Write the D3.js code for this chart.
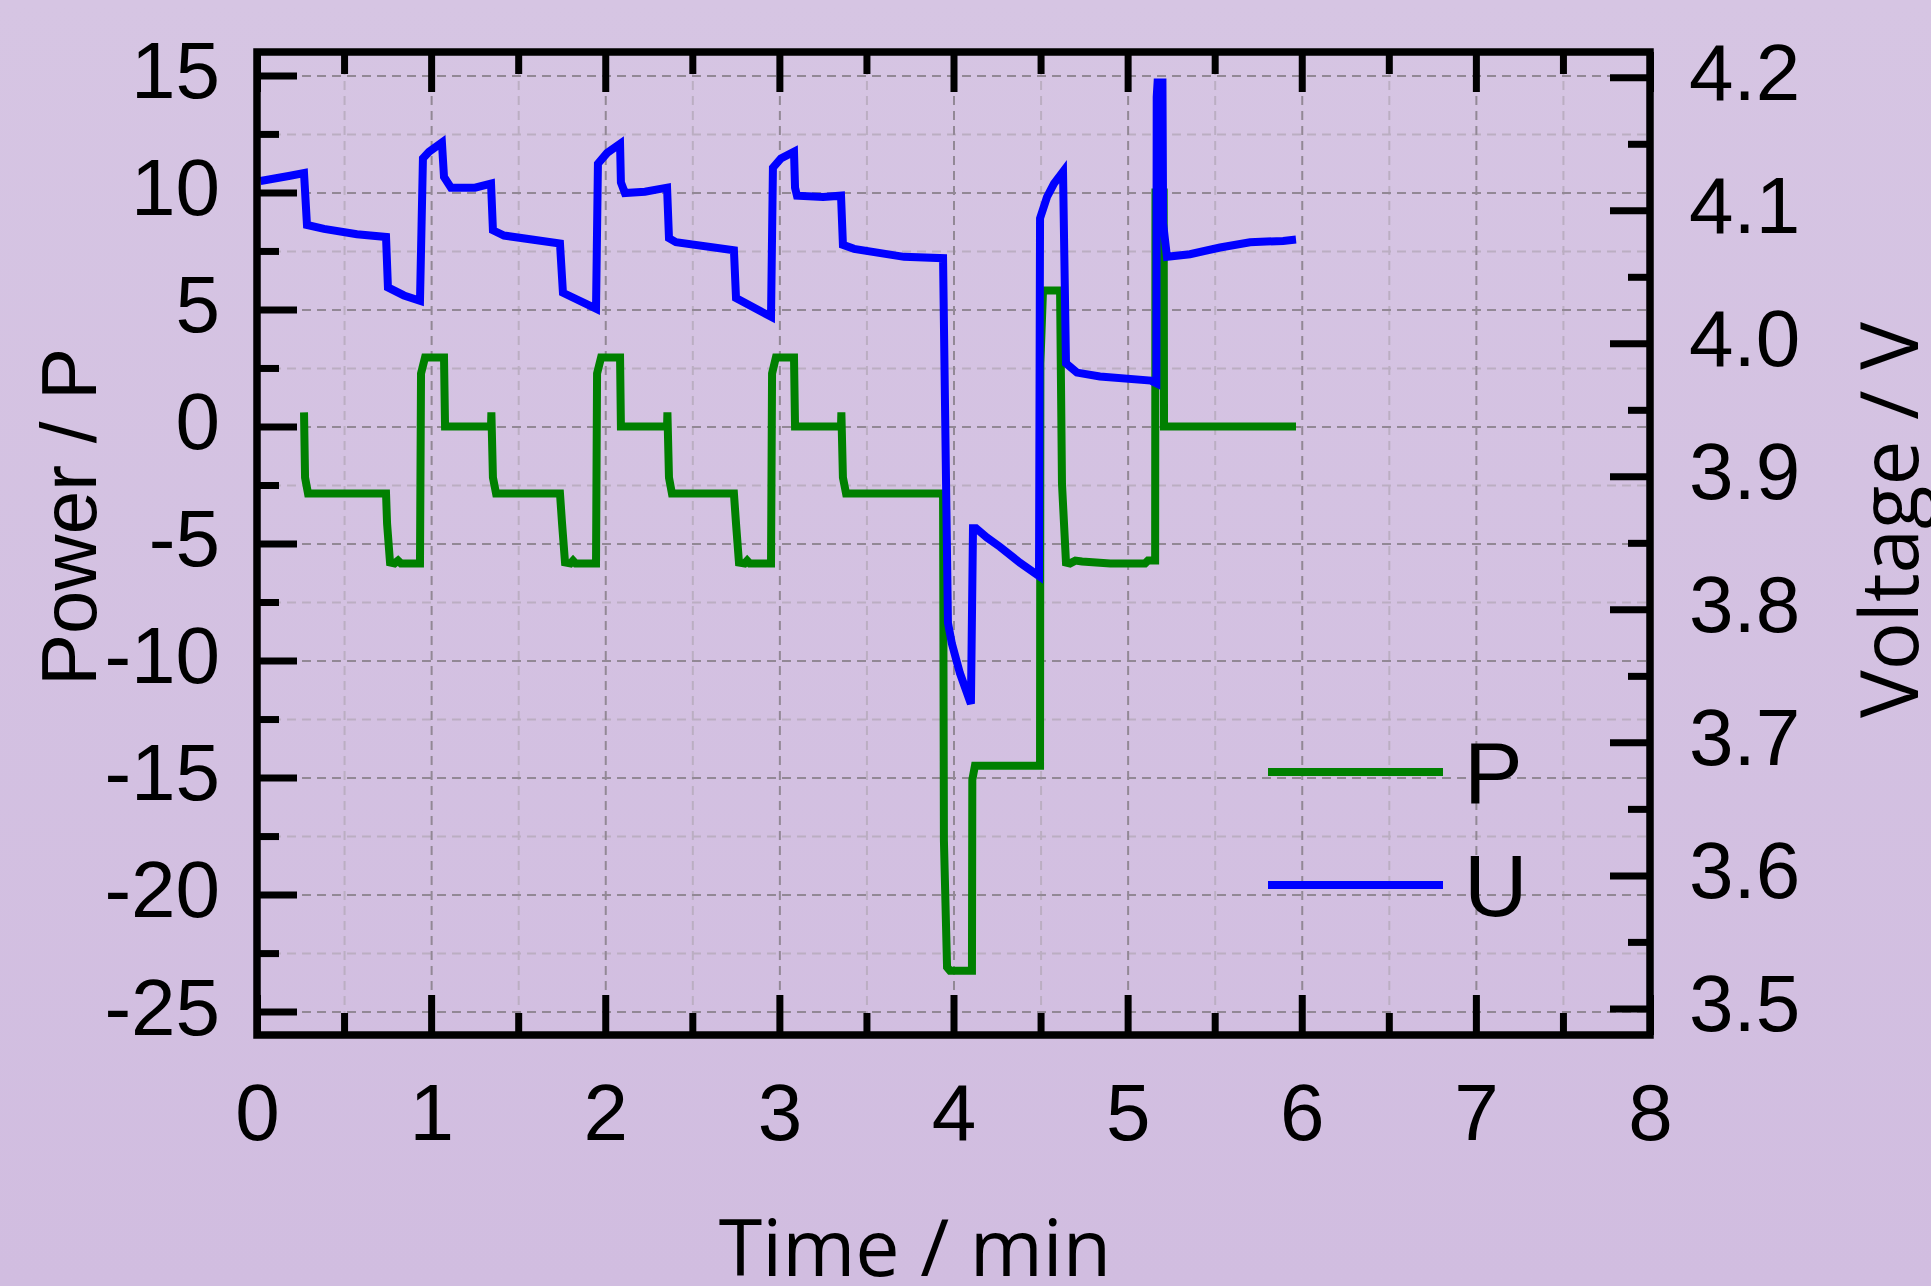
<!DOCTYPE html>
<html>
<head>
<meta charset="utf-8">
<script src="https://cdn.jsdelivr.net/npm/d3@7"></script>
<style>
  html, body { margin: 0; padding: 0; background: #d3bfe1; }
  svg { display: block; }
</style>
</head>
<body>
<div id="chart"></div>
<script>
'use strict';

// time axis (min)
var xMajor = [0, 1, 2, 3, 4, 5, 6, 7, 8],
    xMinor = [0.5, 1.5, 2.5, 3.5, 4.5, 5.5, 6.5, 7.5];
// power axis (left)
var pMajor = [-25, -20, -15, -10, -5, 0, 5, 10, 15],
    pMinor = [-22.5, -17.5, -12.5, -7.5, -2.5, 2.5, 7.5, 12.5];
// voltage axis (right)
var uMajor = [3.5, 3.6, 3.7, 3.8, 3.9, 4.0, 4.1, 4.2],
    uMinor = [3.55, 3.65, 3.75, 3.85, 3.95, 4.05, 4.15];

// P series
var pTime = [0.270, 0.276, 0.293, 0.741, 0.747, 0.764, 0.790, 0.810, 0.827, 0.936, 0.942, 0.965, 1.074, 1.080, 1.344,
    1.346, 1.355, 1.373, 1.740, 1.752, 1.769, 1.800, 1.815, 1.830, 1.947, 1.953, 1.976, 2.085, 2.090, 2.355,
    2.357, 2.366, 2.383, 2.739, 2.751, 2.768, 2.800, 2.815, 2.830, 2.952, 2.958, 2.980, 3.084, 3.090, 3.354,
    3.356, 3.365, 3.383, 3.940, 3.945, 3.963, 3.980, 4.106, 4.108, 4.123, 4.497, 4.499, 4.514, 4.612, 4.623,
    4.646, 4.669, 4.700, 4.738, 4.900, 5.100, 5.117, 5.158, 5.160, 5.207, 5.209, 5.967];
var pValues = [0.6, -2.18, -2.86, -2.86, -4.15, -5.81, -5.85, -5.73, -5.85, -5.85, 2.26, 2.95, 2.95, 0, 0,
    0.6, -2.18, -2.86, -2.86, -4.15, -5.81, -5.85, -5.73, -5.85, -5.85, 2.26, 2.95, 2.95, 0, 0,
    0.6, -2.18, -2.86, -2.86, -4.15, -5.81, -5.85, -5.73, -5.85, -5.85, 2.26, 2.95, 2.95, 0, 0,
    0.6, -2.18, -2.86, -2.86, -17.7, -23.1, -23.25, -23.25, -15.1, -14.5, -14.5, 2.7, 5.81, 5.81, -2.44,
    -5.81, -5.85, -5.73, -5.77, -5.85, -5.85, -5.73, -5.73, 10, 10, 0, 0];

// U series
var uTime = [0.02, 0.19, 0.27, 0.287, 0.385, 0.574, 0.741, 0.752, 0.844, 0.936, 0.953, 0.988, 1.062, 1.074, 1.114,
    1.252, 1.344, 1.355, 1.419, 1.740, 1.757, 1.947, 1.958, 2.010, 2.085, 2.090, 2.113, 2.228, 2.355, 2.366,
    2.406, 2.739, 2.751, 2.952, 2.963, 3.009, 3.084, 3.090, 3.101, 3.251, 3.354, 3.365, 3.429, 3.716, 3.940,
    3.968, 3.991, 4.037, 4.100, 4.112, 4.129, 4.192, 4.267, 4.382, 4.491, 4.497, 4.537, 4.577, 4.629, 4.646,
    4.709, 4.841, 5.134, 5.165, 5.167, 5.172, 5.200, 5.204, 5.226, 5.358, 5.531, 5.703, 5.893, 5.967];
var uValues = [4.122, 4.126, 4.128, 4.089, 4.086, 4.082, 4.080, 4.042, 4.036, 4.032, 4.139, 4.144, 4.151, 4.125, 4.117,
    4.117, 4.120, 4.085, 4.081, 4.075, 4.038, 4.026, 4.135, 4.143, 4.150, 4.121, 4.113, 4.114, 4.117, 4.079,
    4.076, 4.070, 4.034, 4.020, 4.132, 4.139, 4.144, 4.117, 4.111, 4.110, 4.111, 4.074, 4.071, 4.065, 4.064,
    3.790, 3.774, 3.752, 3.729, 3.861, 3.861, 3.854, 3.847, 3.835, 3.825, 4.094, 4.110, 4.120, 4.129, 3.985,
    3.978, 3.975, 3.972, 3.970, 4.185, 4.196, 4.196, 4.090, 4.065, 4.067, 4.072, 4.076, 4.077, 4.078];

var seriesNames = ['P', 'U'],
    seriesColors = ['#008000', '#0000ff'];

(function () {
    var width = 1931,
        height = 1286,
        plotLeft = 257,
        plotRight = 1650,
        plotTop = 52,
        plotBottom = 1035,
        tickFont = "'Liberation Sans', Arial, sans-serif",
        titleFont = "'Open Sans', 'Noto Sans', sans-serif",
        x = d3.scaleLinear().domain([0, 8]).range([plotLeft, plotRight]),
        yP = d3.scaleLinear().domain([-26, 16]).range([plotBottom, plotTop]),
        yU = d3.scaleLinear().domain([3.48, 4.219]).range([plotBottom, plotTop]),
        svg = d3.select('#chart').append('svg').attr('width', width).attr('height', height);

    var grad = svg.append('defs').append('linearGradient').attr('id', 'bg').attr('x1', 0).attr('y1', 0).attr('x2', 0).attr('y2', 1);
    grad.append('stop').attr('offset', '0%').attr('stop-color', '#d6c5e3');
    grad.append('stop').attr('offset', '100%').attr('stop-color', '#d1bde0');
    svg.append('rect').attr('width', width).attr('height', height).attr('fill', 'url(#bg)');

    function place(axis, tx, ty) {
        var g = svg.append('g').attr('transform', 'translate(' + tx + ',' + ty + ')').call(axis);
        g.select('.domain').remove();
        return g;
    }

    // grid
    function grid(g, color) {
        g.selectAll('line').attr('stroke', color).attr('stroke-width', 2).attr('stroke-dasharray', '9,6');
    }
    grid(place(d3.axisBottom(x).tickValues(xMinor).tickSize(-(plotBottom - plotTop)).tickFormat(''), 0, plotBottom), '#bbaec2');
    grid(place(d3.axisLeft(yP).tickValues(pMinor).tickSize(-(plotRight - plotLeft)).tickFormat(''), plotLeft, 0), '#bbaec2');
    grid(place(d3.axisBottom(x).tickValues(xMajor).tickSize(-(plotBottom - plotTop)).tickFormat(''), 0, plotBottom), '#928895');
    grid(place(d3.axisLeft(yP).tickValues(pMajor).tickSize(-(plotRight - plotLeft)).tickFormat(''), plotLeft, 0), '#928895');

    // data lines, U drawn over P
    var lineP = d3.line().x(function (d) { return x(d[0]); }).y(function (d) { return yP(d[1]); }),
        lineU = d3.line().x(function (d) { return x(d[0]); }).y(function (d) { return yU(d[1]); });

    svg.append('path').datum(d3.zip(pTime, pValues)).attr('d', lineP)
        .attr('fill', 'none').attr('stroke', seriesColors[0]).attr('stroke-width', 8);
    svg.append('path').datum(d3.zip(uTime, uValues)).attr('d', lineU)
        .attr('fill', 'none').attr('stroke', seriesColors[1]).attr('stroke-width', 8);

    // ticks
    var plain = function (d) { return String(d); };
    function ticks(g) {
        g.selectAll('line').attr('stroke', '#000').attr('stroke-width', 7);
        g.selectAll('text').attr('fill', '#000').style('font-family', tickFont).style('font-size', '80px');
        return g;
    }
    ticks(place(d3.axisBottom(x).tickValues(xMinor).tickSize(-22).tickFormat(''), 0, plotBottom));
    ticks(place(d3.axisTop(x).tickValues(xMinor).tickSize(-22).tickFormat(''), 0, plotTop));
    ticks(place(d3.axisTop(x).tickValues(xMajor).tickSize(-40).tickFormat(''), 0, plotTop));
    ticks(place(d3.axisBottom(x).tickValues(xMajor).tickSize(-40).tickFormat(plain), 0, plotBottom))
        .selectAll('text').attr('y', 105).attr('dy', 0);

    ticks(place(d3.axisLeft(yP).tickValues(pMinor).tickSize(-22).tickFormat(''), plotLeft, 0));
    ticks(place(d3.axisLeft(yP).tickValues(pMajor).tickSize(-40).tickFormat(plain), plotLeft, 0))
        .selectAll('text').attr('x', -37).attr('dy', '0.28em');

    ticks(place(d3.axisRight(yU).tickValues(uMinor).tickSize(-22).tickFormat(''), plotRight, 0));
    ticks(place(d3.axisRight(yU).tickValues(uMajor).tickSize(-40).tickFormat(d3.format('.1f')), plotRight, 0))
        .selectAll('text').attr('x', 39).attr('dy', '0.28em');

    // frame
    svg.append('rect').attr('x', plotLeft).attr('y', plotTop)
        .attr('width', plotRight - plotLeft).attr('height', plotBottom - plotTop)
        .attr('fill', 'none').attr('stroke', '#000').attr('stroke-width', 7.5);

    // legend
    var legend = svg.append('g').attr('transform', 'translate(1268,772)');
    seriesNames.forEach(function (name, i) {
        legend.append('line').attr('x1', 0).attr('x2', 175).attr('y1', i * 113).attr('y2', i * 113)
            .attr('stroke', seriesColors[i]).attr('stroke-width', 8);
        legend.append('text').attr('x', 196).attr('y', i * 113 + 31).text(name)
            .style('font-family', tickFont).style('font-size', '88px').attr('fill', '#000');
    });

    // axis titles
    svg.append('text').attr('x', 915).attr('y', 1276).attr('text-anchor', 'middle')
        .style('font-family', titleFont).style('font-size', '79px').text('Time / min');
    svg.append('text').attr('transform', 'translate(96,517) rotate(-90)').attr('text-anchor', 'middle')
        .style('font-family', tickFont).style('font-size', '78px').text('Power / P');
    svg.append('text').attr('transform', 'translate(1918,520) rotate(-90)').attr('text-anchor', 'middle')
        .style('font-family', titleFont).style('font-size', '80px').text('Voltage / V');
})();
</script>
</body>
</html>
